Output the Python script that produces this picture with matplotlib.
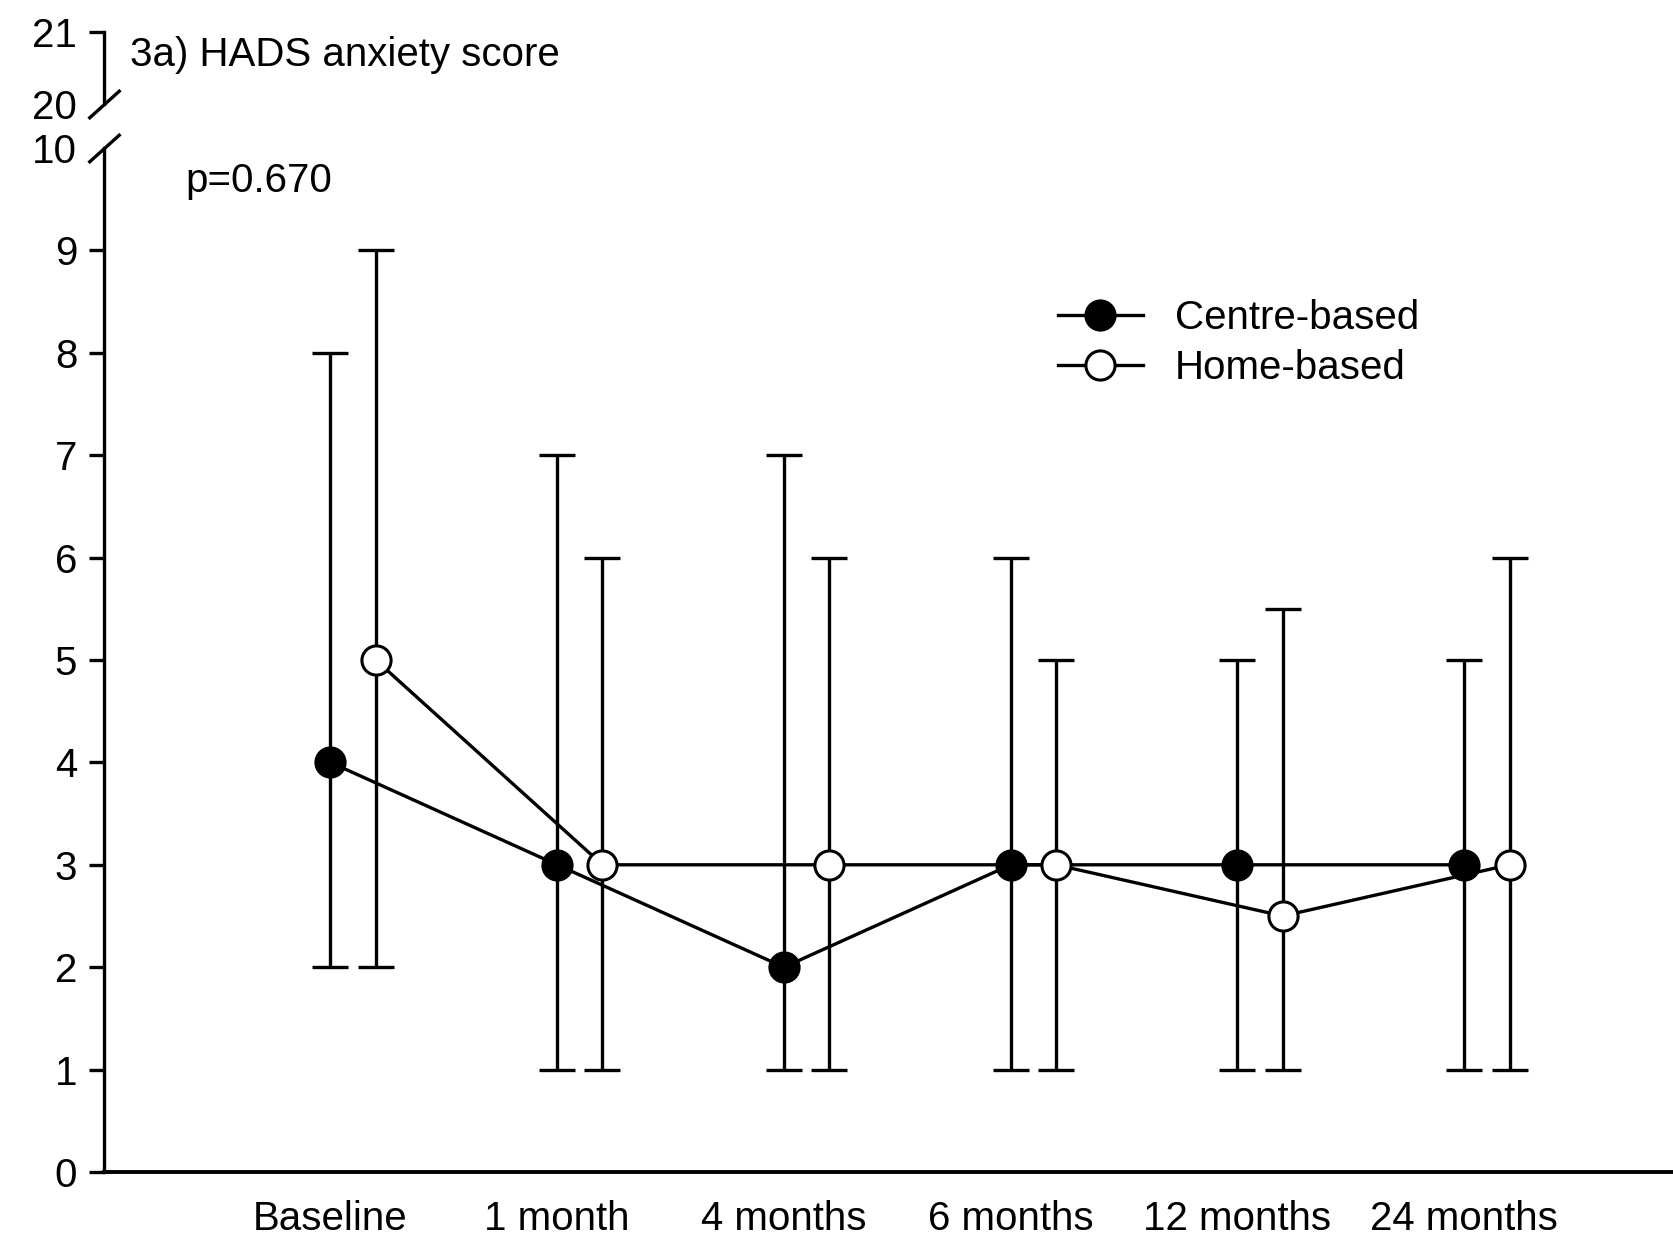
import numpy as np
import matplotlib
matplotlib.use("Agg")
import matplotlib.pyplot as plt

plt.rcParams['font.family'] = ['Liberation Sans', 'DejaVu Sans']

# data (median and range)
timepoints = ["Baseline", "1 month", "4 months", "6 months", "12 months", "24 months"]
centre_mid = [4, 3, 2, 3, 3, 3]
centre_low = [2, 1, 1, 1, 1, 1]
centre_high = [8, 7, 7, 6, 5, 5]
home_mid = [5, 3, 3, 3, 2.5, 3]
home_low = [2, 1, 1, 1, 1, 1]
home_high = [9, 6, 6, 5, 5.5, 6]

W, H = 1674, 1241
fig = plt.figure(figsize=(W / 100, H / 100), dpi=100)

left = 103.6 / W
ax = fig.add_axes([left, 69 / H, 1 - left, (1172 - 148) / H])
ax_top = fig.add_axes([left, (H - 104) / H, 1 - left, 72 / H], sharex=ax)

x = np.arange(len(timepoints))
off = 0.2
lw = 2.4
fs = 29

def draw_group(xs, mid, low, high, face):
    mid = np.array(mid)
    err = [mid - np.array(low), np.array(high) - mid]
    ax.errorbar(xs, mid, yerr=err, fmt='none', ecolor='black',
                elinewidth=lw, capsize=13, capthick=lw, zorder=2)
    ax.plot(xs, mid, '-', color='black', lw=lw, marker='o', markersize=21,
            markerfacecolor=face, markeredgecolor='black', markeredgewidth=2.2,
            zorder=3)

draw_group(x, centre_mid, centre_low, centre_high, 'black')
draw_group(x + off, home_mid, home_low, home_high, 'white')

# legend drawn with proxy lines
h1, = ax.plot([], [], '-', color='black', lw=lw, marker='o', markersize=21,
              markerfacecolor='black', markeredgecolor='black', markeredgewidth=2.2)
h2, = ax.plot([], [], '-', color='black', lw=lw, marker='o', markersize=21,
              markerfacecolor='white', markeredgecolor='black', markeredgewidth=2.2)
ax.legend([h1, h2], ["Centre-based", "Home-based"], loc='upper left',
          bbox_to_anchor=(0.595, 0.872), frameon=False, fontsize=fs,
          handlelength=2.1, handletextpad=0.8, labelspacing=0.3, borderpad=0)

ax.set_xlim(-1.0, 5.925)
ax.set_ylim(0, 10)
ax.set_xticks(x)
ax.set_xticklabels(timepoints, fontsize=fs)
ax.set_yticks(range(11))
ax.tick_params(axis='x', length=0, pad=20)
ax.tick_params(axis='y', direction='out', length=11, width=lw, labelsize=fs, pad=8)
ax.yaxis.get_major_ticks()[-1].tick1line.set_visible(False)
for s in ['top', 'right']:
    ax.spines[s].set_visible(False)
ax.spines['left'].set_linewidth(lw)
ax.spines['bottom'].set_linewidth(2.8)

ax.text(0.052, 9.68, "p=0.670", fontsize=fs, va='center', ha='left',
        transform=ax.get_yaxis_transform())

# top broken segment of the y axis
ax_top.set_ylim(20, 21)
ax_top.set_yticks([20, 21])
ax_top.tick_params(axis='y', direction='out', length=11, width=lw, labelsize=fs, pad=8)
ax_top.yaxis.get_major_ticks()[0].tick1line.set_visible(False)
ax_top.xaxis.set_visible(False)
for s in ['top', 'right', 'bottom']:
    ax_top.spines[s].set_visible(False)
ax_top.spines['left'].set_linewidth(lw)
ax_top.patch.set_alpha(0)
ax_top.text(0.017, 20.68, "3a) HADS anxiety score", fontsize=fs,
            va='center', ha='left', transform=ax_top.get_yaxis_transform())

# break marks
slash = [(-1, -0.9), (1, 0.9)]
ax.plot([0], [1], transform=ax.transAxes, marker=slash, markersize=23,
        color='black', mew=lw, clip_on=False)
ax_top.plot([0], [0], transform=ax_top.transAxes, marker=slash, markersize=23,
            color='black', mew=lw, clip_on=False)

fig.savefig("out.png", dpi=100)
